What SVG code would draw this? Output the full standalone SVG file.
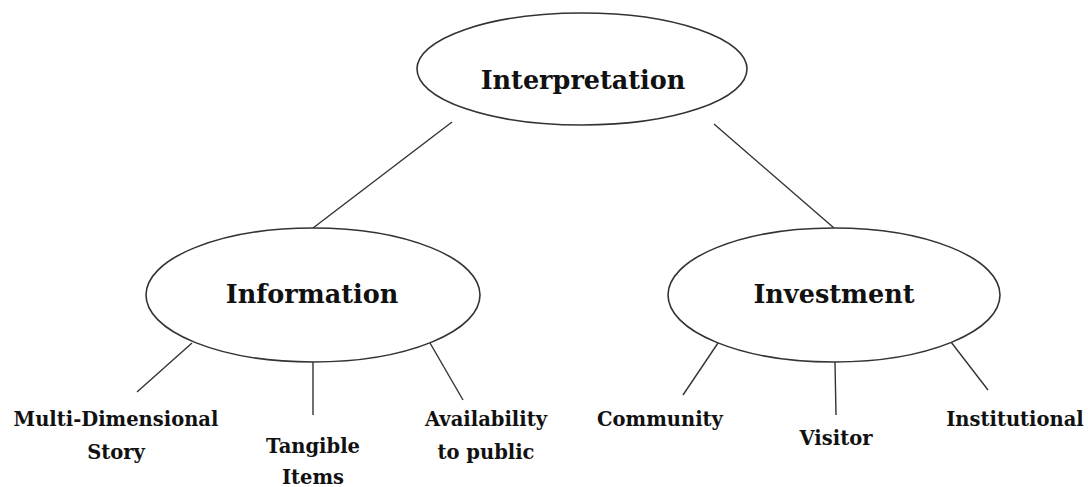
<svg xmlns="http://www.w3.org/2000/svg" width="1088" height="487" viewBox="0 0 1088 487">
  <style>
    .node { fill: #ffffff; stroke: #333333; stroke-width: 1.6; }
    .link { stroke: #333333; stroke-width: 1.4; fill: none; }
    .title { font-family: "DejaVu Serif", "Liberation Serif", serif; font-weight: bold; font-size: 25.5px; fill: #111111; text-anchor: middle; }
    .leaf { font-family: "DejaVu Serif", "Liberation Serif", serif; font-weight: bold; font-size: 19.5px; fill: #111111; text-anchor: middle; }
  </style>
  <rect width="1088" height="487" fill="#ffffff"/>

  <!-- connectors -->
  <g id="connectors">
    <line class="link" x1="452" y1="122" x2="313" y2="228"/>
    <line class="link" x1="714" y1="124" x2="834" y2="228"/>
    <line class="link" x1="192" y1="343" x2="137" y2="392"/>
    <line class="link" x1="313" y1="362" x2="313" y2="415"/>
    <line class="link" x1="430" y1="343" x2="463" y2="400"/>
    <line class="link" x1="718" y1="343" x2="683" y2="395"/>
    <line class="link" x1="835" y1="362" x2="836" y2="415"/>
    <line class="link" x1="951" y1="342" x2="988" y2="390"/>
  </g>

  <!-- top node -->
  <g id="interpretation">
    <ellipse class="node" cx="582" cy="69" rx="165" ry="56"/>
    <text class="title" x="583" y="89">Interpretation</text>
  </g>

  <!-- second level -->
  <g id="information">
    <ellipse class="node" cx="313" cy="295" rx="167" ry="67"/>
    <text class="title" x="312" y="303">Information</text>
  </g>
  <g id="investment">
    <ellipse class="node" cx="834" cy="295" rx="166" ry="67"/>
    <text class="title" x="834" y="303">Investment</text>
  </g>

  <!-- leaves -->
  <g id="multi-dimensional-story">
    <text class="leaf" x="116" y="426">Multi-Dimensional</text>
    <text class="leaf" x="116" y="459">Story</text>
  </g>
  <g id="tangible-items">
    <text class="leaf" x="313" y="453">Tangible</text>
    <text class="leaf" x="313" y="484">Items</text>
  </g>
  <g id="availability-to-public">
    <text class="leaf" x="486" y="426">Availability</text>
    <text class="leaf" x="486" y="459">to public</text>
  </g>
  <g id="community">
    <text class="leaf" x="660" y="426">Community</text>
  </g>
  <g id="visitor">
    <text class="leaf" x="836" y="445">Visitor</text>
  </g>
  <g id="institutional">
    <text class="leaf" x="1015" y="426">Institutional</text>
  </g>
</svg>
